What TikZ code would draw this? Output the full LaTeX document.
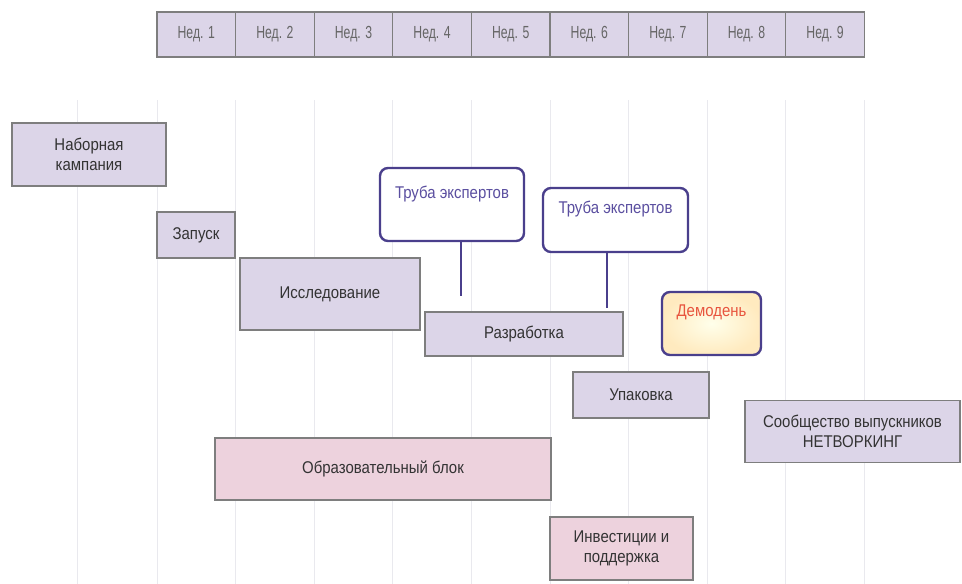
\documentclass[tikz,border=0pt]{standalone}
\usepackage{fontspec}
\setmainfont{Liberation Sans}[FakeStretch=0.88]
\newfontfamily\hdrfont{Liberation Sans}[FakeStretch=0.7]
\usetikzlibrary{shadings}
\definecolor{lav}{HTML}{DCD5E8}
\definecolor{pinkf}{HTML}{EDD2DD}
\definecolor{bord}{HTML}{7E7E7E}
\definecolor{txt}{HTML}{333333}
\definecolor{hdrtxt}{HTML}{666666}
\definecolor{grid}{HTML}{E9E9EE}
\definecolor{purp}{HTML}{4A3F8C}
\definecolor{purptxt}{HTML}{5B4FA0}
\definecolor{demored}{HTML}{E8553E}
\tikzset{
  x=1pt,y=-1pt,
  every node/.style={font=\fontsize{17}{19.5}\selectfont, text=txt, align=center, inner sep=2pt},
  hdr/.style={draw=bord, line width=1.2pt, fill=lav, minimum width=78.6pt, minimum height=45pt, text=hdrtxt, font=\hdrfont\fontsize{17.5}{19}\selectfont},
  gbox/.style={draw=bord, line width=1.4pt, fill=lav},
  pbox/.style={draw=bord, line width=1.4pt, fill=pinkf},
  tube/.style={draw=purp, line width=2.4pt, rounded corners=8pt, fill=white, text=purptxt},
  conn/.style={draw=purp, line width=2.4pt},
  gridline/.style={draw=grid, line width=1pt}
}
\begin{document}
\begin{tikzpicture}
\useasboundingbox (0,0) rectangle (962,584);
% grid
\foreach \gx in {77,157,235.6,314.2,392.8,471.4,550,628.6,707.2,785.8,864.4}
  \draw[gridline] (\gx,100) -- (\gx,584);
% header
\foreach \i in {1,...,9}
  \node[hdr] (h\i) at ({157+78.6*(\i-0.5)},34.5) {Нед. \i};
% boxes
\node[gbox, minimum width=154pt, minimum height=63pt] (nab) at (89,154.5) {Наборная\\кампания};
\node[gbox, minimum width=78pt, minimum height=46pt] (zap) at (196,235) {Запуск};
\node[gbox, minimum width=180pt, minimum height=72pt] (iss) at (330,294) {Исследование};
\node[gbox, minimum width=198pt, minimum height=44pt] (raz) at (524,334) {Разработка};
\node[gbox, minimum width=136pt, minimum height=46pt] (upa) at (641,395) {Упаковка};
\node[gbox, minimum width=215pt, minimum height=62pt] (soo) at (852.5,431.5) {Сообщество выпускников\\НЕТВОРКИНГ};
\node[pbox, minimum width=336pt, minimum height=62pt] (obr) at (383,469) {Образовательный блок};
\node[pbox, minimum width=143pt, minimum height=63pt] (inv) at (621.5,548.5) {Инвестиции и\\поддержка};
% tubes
\node[tube, minimum width=144pt, minimum height=73pt] (t1) at (452,204.5) {Труба экспертов\\[0pt]\strut};
\node[tube, minimum width=145pt, minimum height=64pt] (t2) at (615.5,220) {Труба экспертов\\[0pt]\strut};
\coordinate (t1e) at (461,296);
\coordinate (t2e) at (607,308);
\draw[conn] (t1e |- t1.south) -- (t1e);
\draw[conn] (t2e |- t2.south) -- (t2e);
% demo day
\node[draw=purp, line width=2.4pt, rounded corners=8pt, inner color=yellow!8, outer color=yellow!35!orange!25, text=demored, minimum width=99pt, minimum height=63pt] (demo) at (711.5,323.5) {Демодень\\[0pt]\strut};
\end{tikzpicture}
\end{document}
